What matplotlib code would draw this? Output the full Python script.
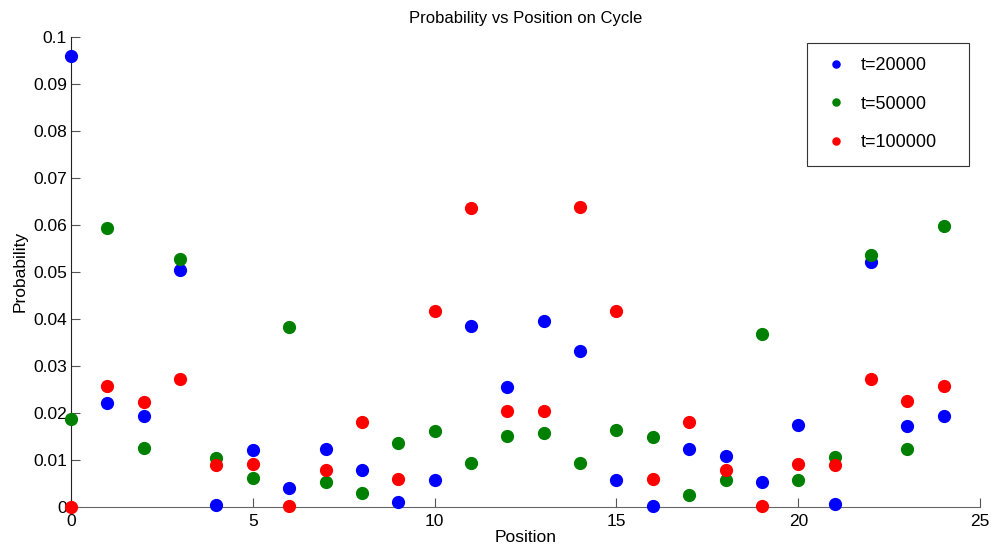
import matplotlib
matplotlib.use("Agg")
import matplotlib.pyplot as plt

plt.rcParams['font.family'] = ['Liberation Sans', 'DejaVu Sans']

positions = list(range(25))
p_t20000 = [0.0959, 0.0221, 0.0194, 0.0503, 0.0003, 0.0121, 0.0040, 0.0123, 0.0078, 0.0010,
            0.0056, 0.0384, 0.0255, 0.0396, 0.0332, 0.0056, 0.0001, 0.0123, 0.0107, 0.0053,
            0.0174, 0.0005, 0.0521, 0.0172, 0.0193]
p_t50000 = [0.0186, 0.0592, 0.0124, 0.0528, 0.0104, 0.0060, 0.0382, 0.0053, 0.0030, 0.0136,
            0.0161, 0.0092, 0.0150, 0.0157, 0.0092, 0.0164, 0.0148, 0.0025, 0.0057, 0.0368,
            0.0057, 0.0106, 0.0535, 0.0123, 0.0597]
p_t100000 = [0.0000, 0.0257, 0.0223, 0.0271, 0.0089, 0.0091, 0.0002, 0.0078, 0.0181, 0.0058,
             0.0416, 0.0636, 0.0203, 0.0203, 0.0638, 0.0417, 0.0058, 0.0180, 0.0078, 0.0002,
             0.0091, 0.0089, 0.0271, 0.0224, 0.0257]
labels = ['t=20000', 't=50000', 't=100000']
colors = ['#0000ff', '#008000', '#ff0000']

fig = plt.figure(figsize=(9.92, 5.54), dpi=100)
ax = fig.add_axes([0.0716, 0.0854, 0.9164, 0.8484])

handles = []
for ys, lab, c in zip([p_t20000, p_t50000, p_t100000], labels, colors):
    h, = ax.plot(positions, ys, linestyle='none', marker='o', markersize=8.5,
                 color=c, markeredgecolor=c, label=lab, clip_on=False, zorder=3)
    handles.append(h)

ax.set_xlim(0, 25)
ax.set_ylim(0, 0.1)
ax.set_xticks([0, 5, 10, 15, 20, 25])
ax.set_yticks([0, 0.01, 0.02, 0.03, 0.04, 0.05, 0.06, 0.07, 0.08, 0.09, 0.1])
ax.set_yticklabels(['0', '0.01', '0.02', '0.03', '0.04', '0.05', '0.06', '0.07', '0.08', '0.09', '0.1'])

ax.spines['top'].set_visible(False)
ax.spines['right'].set_visible(False)
ax.spines['left'].set_color('#222222')
ax.spines['bottom'].set_color('#666666')
ax.tick_params(axis='both', direction='in', length=6.5, width=0.8, color='#555555',
               labelsize=12.5)
ax.tick_params(axis='x', pad=5)
ax.tick_params(axis='y', pad=3)

ax.set_title('Probability vs Position on Cycle', fontsize=12, pad=10)
ax.set_xlabel('Position', fontsize=12.5, labelpad=1)
ax.set_ylabel('Probability', fontsize=12.5, labelpad=4)

leg = ax.legend(handles=handles, loc='upper left', bbox_to_anchor=(0.8094, 0.987, 0.1789, 0.0),
                mode='expand', borderaxespad=0, fontsize=13, markerscale=0.6, labelspacing=1.19,
                handlelength=1.6, handletextpad=0.6, borderpad=0.8, fancybox=False,
                framealpha=1, edgecolor='#333333')
leg.get_frame().set_linewidth(0.8)

fig.savefig('out.png', dpi=100)
